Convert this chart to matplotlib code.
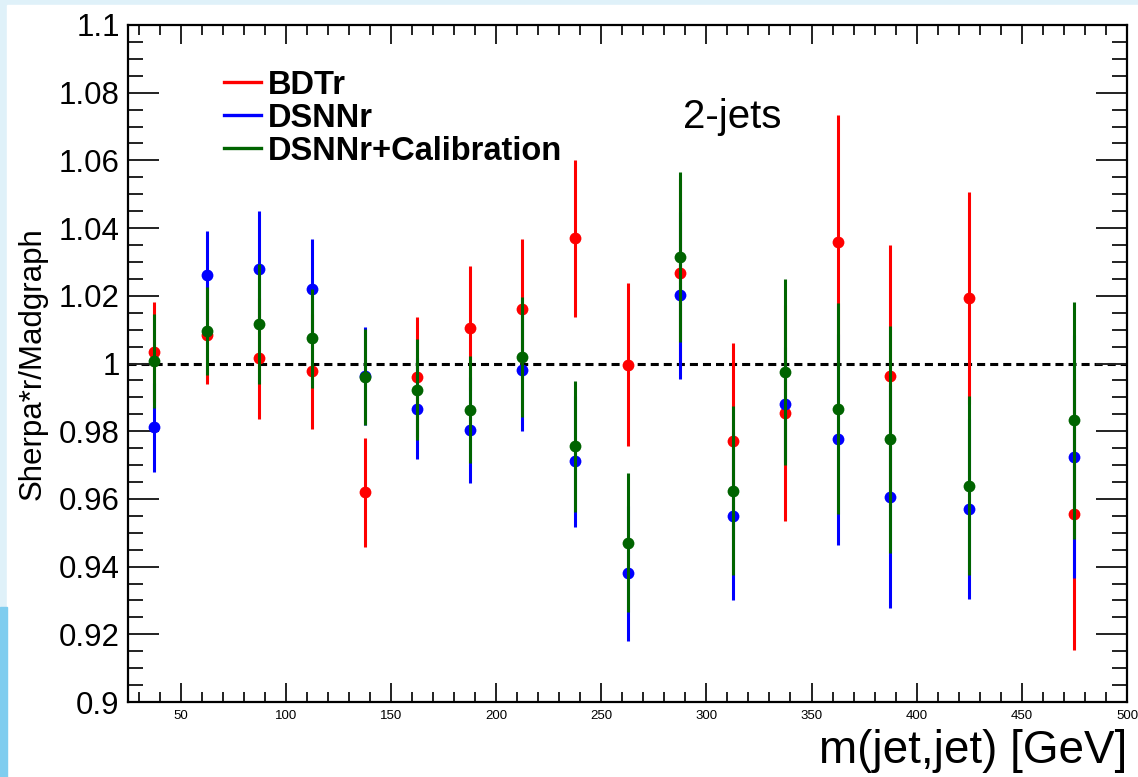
import matplotlib.pyplot as plt
from matplotlib.lines import Line2D
from matplotlib.patches import Rectangle
from matplotlib.ticker import MultipleLocator, FuncFormatter

# bin centres of m(jj) in GeV
mjj = [37.5, 62.5, 87.5, 112.5, 137.5, 162.5, 187.5, 212.5, 237.5,
       262.5, 287.5, 312.5, 337.5, 362.5, 387.5, 425, 475]

# Sherpa*r / Madgraph ratio for each reweighting
bdtr = [1.0035, 1.0084, 1.0015, 0.9977, 0.9619, 0.9960, 1.0106, 1.0160, 1.0370,
        0.9997, 1.0268, 0.9772, 0.9854, 1.0360, 0.9963, 1.0193, 0.9554]
bdtr_err = [0.0148, 0.0145, 0.0178, 0.0170, 0.0160, 0.0178, 0.0183, 0.0207, 0.0232,
            0.0242, 0.0277, 0.0290, 0.0320, 0.0374, 0.0388, 0.0313, 0.0400]

dsnnr = [0.9811, 1.0260, 1.0279, 1.0220, 0.9962, 0.9867, 0.9803, 0.9982, 0.9711,
         0.9380, 1.0201, 0.9549, 0.9880, 0.9776, 0.9607, 0.9570, 0.9725]
dsnnr_err = [0.0132, 0.0132, 0.0172, 0.0148, 0.0145, 0.0150, 0.0157, 0.0180, 0.0193,
             0.0200, 0.0248, 0.0248, 0.0170, 0.0312, 0.0329, 0.0265, 0.0360]

calib = [1.0007, 1.0096, 1.0117, 1.0074, 0.9960, 0.9923, 0.9863, 1.0018, 0.9755,
         0.9471, 1.0315, 0.9624, 0.9975, 0.9866, 0.9776, 0.9639, 0.9832]
calib_err = [0.0138, 0.0130, 0.0177, 0.0147, 0.0143, 0.0150, 0.0158, 0.0177, 0.0193,
             0.0205, 0.0252, 0.0250, 0.0275, 0.0312, 0.0336, 0.0264, 0.0350]

names = ['BDTr', 'DSNNr', 'DSNNr+Calibration']
colors = ['#ff0000', '#0000ff', '#006400']

plt.rcParams['font.family'] = ['Liberation Sans', 'DejaVu Sans']
plt.rcParams['lines.scale_dashes'] = False

W, H = 1138, 777
fig = plt.figure(figsize=(W / 100, H / 100), dpi=100)

# slide background around the canvas
fig.patches.append(Rectangle((0, 0), 1, 1, transform=fig.transFigure,
                             color='#dff1f9', zorder=-3))
fig.patches.append(Rectangle((7 / W, 0), 1, 1 - 5 / H, transform=fig.transFigure,
                             color='white', zorder=-2))
fig.patches.append(Rectangle((0, 0), 7 / W, 170 / H, transform=fig.transFigure,
                             color='#7fcdef', zorder=-1))

ax = fig.add_axes([128 / W, 75 / H, 999 / W, 677 / H])

ax.axhline(1.0, color='black', lw=2.2, dashes=(5.8, 3.6), zorder=1)

series = [(bdtr, bdtr_err), (dsnnr, dsnnr_err), (calib, calib_err)]
for i, ((vals, errs), col) in enumerate(zip(series, colors)):
    ax.errorbar(mjj, vals, yerr=errs, fmt='o', color=col, ms=8.5, mew=0,
                elinewidth=2.2, capsize=0, zorder=2 + i)

ax.set_xlim(25, 500)
ax.set_ylim(0.9, 1.1)

ax.xaxis.set_major_locator(MultipleLocator(50))
ax.xaxis.set_minor_locator(MultipleLocator(10))
ax.yaxis.set_major_locator(MultipleLocator(0.02))
ax.yaxis.set_minor_locator(MultipleLocator(0.005))
ax.yaxis.set_major_formatter(FuncFormatter(lambda v, p: '%g' % round(v, 3)))

ax.tick_params(axis='both', which='both', direction='in', top=True, right=True,
               width=1.4, color='#222222')
ax.tick_params(axis='x', which='major', length=14, labelsize=9.5, pad=6)
ax.tick_params(axis='x', which='minor', length=7)
ax.tick_params(axis='y', which='major', length=22, labelsize=22.5, pad=6)
ax.tick_params(axis='y', which='minor', length=11)
for sp in ax.spines.values():
    sp.set_linewidth(1.6)

ax.set_xlabel('m(jet,jet) [GeV]', fontsize=33, loc='right', labelpad=5)
ax.set_ylabel('Sherpa*r/Madgraph', fontsize=22.5, labelpad=8)

ax.text(555 / 999, 1 - 103 / 677, '2-jets', transform=ax.transAxes,
        fontsize=29, va='baseline', ha='left')

handles = [Line2D([], [], color=c, lw=2.4) for c in colors]
leg = ax.legend(handles, names, loc='upper left', bbox_to_anchor=(0.096, 0.934),
                frameon=False, prop={'weight': 'bold', 'size': 23.5},
                handlelength=1.15, handletextpad=0.2, labelspacing=0.06,
                borderpad=0, borderaxespad=0)

fig.savefig('out.png', dpi=100)
